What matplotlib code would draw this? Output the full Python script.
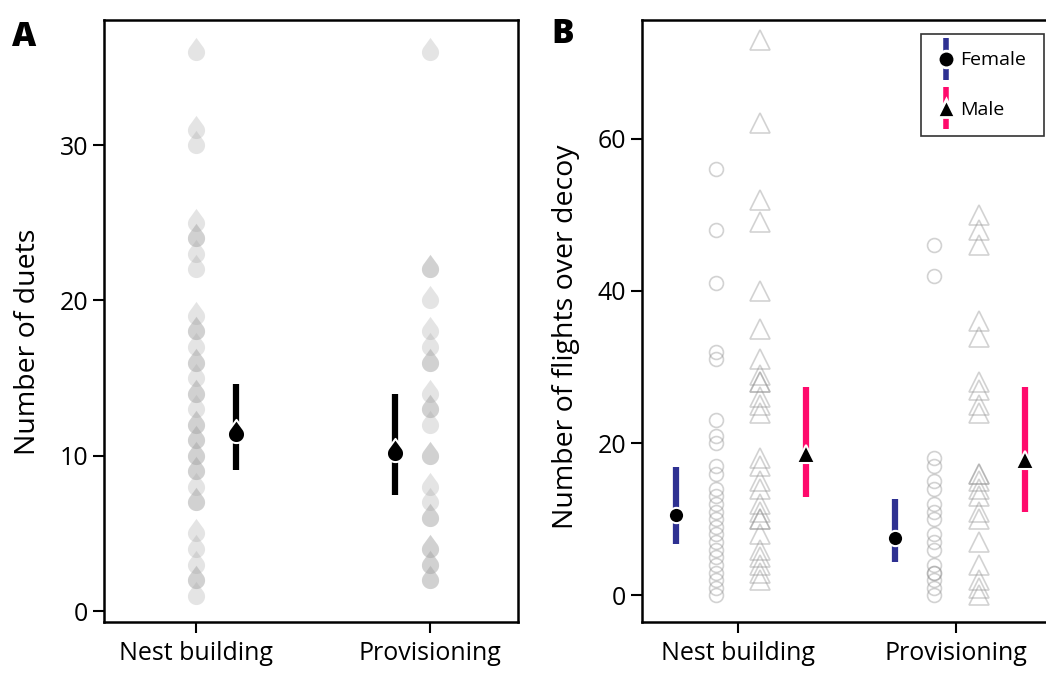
import numpy as np
import matplotlib.pyplot as plt
from matplotlib.path import Path
from matplotlib.lines import Line2D
from matplotlib.legend_handler import HandlerTuple

plt.rcParams['font.family'] = ['Open Sans', 'DejaVu Sans']

# DATA
stages = ["Nest building", "Provisioning"]

# panel A: number of duets
duets_nest = [36, 31, 30, 25, 24, 24, 23, 22, 19, 18, 18, 17, 16, 16, 15, 14, 14, 13,
              12, 12, 11, 11, 10, 10, 9, 9, 8, 7, 7, 5, 4, 3, 2, 2, 1]
duets_prov = [36, 22, 22, 20, 18, 17, 16, 16, 14, 13, 13, 12, 10, 10, 8, 7, 6, 6,
              4, 4, 3, 3, 2, 2]
duets_mean = [11.4, 10.2]
duets_low = [9.1, 7.5]
duets_high = [14.65, 13.95]

# panel B: flights over decoy
fem_nest = [56, 48, 41, 32, 31, 23, 21, 20, 17, 16, 14, 13, 12, 11, 10, 9, 8, 7, 6,
            5, 4, 3, 2, 1, 0]
male_nest = [73, 62, 52, 49, 40, 35, 31, 29, 28, 28, 26, 25, 24, 18, 17, 15, 14, 12,
             11, 10, 10, 8, 6, 5, 4, 3, 2]
fem_prov = [46, 42, 18, 17, 15, 14, 12, 11, 10, 8, 7, 6, 4, 3, 3, 2, 1, 0]
male_prov = [50, 48, 46, 36, 34, 28, 27, 25, 24, 16, 16, 15, 14, 13, 11, 10, 7, 4,
             2, 1, 0]
fem_mean = [10.6, 7.5]
fem_low = [6.8, 4.4]
fem_high = [16.9, 12.6]
male_mean = [18.6, 17.8]
male_low = [12.9, 11.0]
male_high = [27.4, 27.4]

# teardrop marker: round bottom, pointed top, centred on the round part
tip = 1.7
a0 = np.degrees(np.arccos(1 / tip))
ang = np.radians(np.linspace(90 - a0, -270 + a0, 40))
verts = [(0, tip)] + list(zip(np.cos(ang), np.sin(ang))) + [(0, tip)]
drop = Path(verts, [Path.MOVETO] + [Path.LINETO] * (len(verts) - 2) + [Path.CLOSEPOLY])

blue = "#2e3192"
pink = "#ff0a6c"

fig = plt.figure(figsize=(10.46, 6.73), dpi=100)

# PANEL A
ax = fig.add_axes([0.0994, 0.0758, 0.396, 0.8945])
x = np.arange(1, 3)
for xi, vals in zip(x, [duets_nest, duets_prov]):
    ax.plot(np.full(len(vals), xi), vals, linestyle="none", marker=drop, markersize=21,
            color="#a8a8a8", alpha=0.3, markeredgewidth=0)
xm = x + np.array([0.17, -0.15])
ax.vlines(xm, duets_low, duets_high, color="black", linewidth=4.5)
ax.plot(xm, duets_mean, linestyle="none", marker=drop, markersize=21, color="black",
        markeredgecolor="white", markeredgewidth=1.5)
ax.set_xlim(0.607, 2.376)
ax.set_ylim(-0.7, 38.05)
ax.set_yticks([0, 10, 20, 30])
ax.set_xticks(x)
ax.set_xticklabels(stages)
ax.set_ylabel("Number of duets", fontsize=20.5)
ax.yaxis.set_label_coords(-0.15, 0.465)
fig.text(0.011, 0.97, "A", fontsize=24, fontweight="heavy", va="top")

# PANEL B
bx = fig.add_axes([0.6138, 0.0758, 0.392, 0.8945])
for xi, f, m in zip(x, [fem_nest, fem_prov], [male_nest, male_prov]):
    bx.plot(np.full(len(f), xi - 0.10), f, linestyle="none", marker="o", markersize=10,
            markerfacecolor="none", markeredgecolor="#909090", alpha=0.4, markeredgewidth=1.2)
    bx.plot(np.full(len(m), xi + 0.105), m, linestyle="none", marker="^", markersize=14,
            markerfacecolor="none", markeredgecolor="#909090", alpha=0.4, markeredgewidth=1.2)
xf = x - 0.28
xmale = x + 0.316
bx.vlines(xf, fem_low, fem_high, color=blue, linewidth=4.5)
bx.plot(xf, fem_mean, linestyle="none", marker="o", markersize=11, color="black",
        markeredgecolor="white", markeredgewidth=1.5)
bx.vlines(xmale, male_low, male_high, color=pink, linewidth=4.5)
bx.plot(xmale, male_mean, linestyle="none", marker="^", markersize=13, color="black",
        markeredgecolor="white", markeredgewidth=1.5)
bx.set_xlim(0.562, 2.442)
bx.set_ylim(-3.5, 75.6)
bx.set_yticks([0, 20, 40, 60])
bx.set_xticks(x)
bx.set_xticklabels(stages)
bx.set_ylabel("Number of flights over decoy", fontsize=20.5)
bx.yaxis.set_label_coords(-0.152, 0.473)
bx.spines["right"].set_visible(False)
fig.text(0.527, 0.975, "B", fontsize=24, fontweight="heavy", va="top")

# legend: coloured bar with black marker
h_f = (Line2D([], [], linestyle="none", marker="|", markersize=30, markeredgewidth=4, color=blue),
       Line2D([], [], linestyle="none", marker="o", markersize=12, color="black",
              markeredgecolor="white", markeredgewidth=2))
h_m = (Line2D([], [], linestyle="none", marker="|", markersize=30, markeredgewidth=4, color=pink),
       Line2D([], [], linestyle="none", marker="^", markersize=13, color="black",
              markeredgecolor="white", markeredgewidth=2))
leg = bx.legend([h_f, h_m], ["Female", "Male"], handler_map={tuple: HandlerTuple(ndivide=1)},
                loc="upper right", bbox_to_anchor=(0.998, 0.9495), bbox_transform=fig.transFigure,
                fontsize=14, fancybox=False, framealpha=1, edgecolor="#333333",
                handlelength=0.8, handletextpad=0.35, labelspacing=1.6, borderpad=0.9,
                borderaxespad=0)
leg.get_frame().set_linewidth(1.2)

for a in (ax, bx):
    for s in a.spines.values():
        s.set_linewidth(1.8)
    a.tick_params(axis="both", labelsize=18, length=8, width=1.5, direction="out")
    a.tick_params(axis="x", labelsize=18, pad=6)

fig.savefig("out.png", dpi=100)
